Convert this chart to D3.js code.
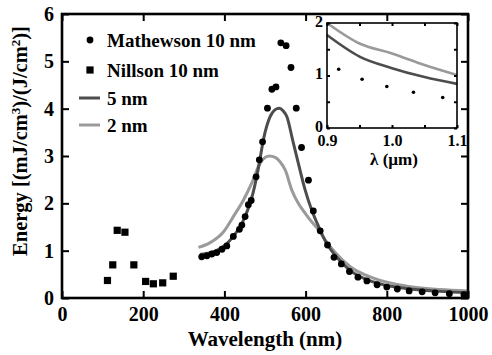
<!DOCTYPE html>
<html>
<head>
<meta charset="utf-8">
<script src="https://cdn.jsdelivr.net/npm/d3@7"></script>
<style>
body{margin:0;background:#fff;}
text{font-family:"Liberation Serif","Times New Roman",Times,"DejaVu Serif",serif;font-weight:bold;fill:#000;}
</style>
</head>
<body>
<div id="canvas"></div>
<script>
// Mathewson 10 nm (wavelength nm, energy)
let mathewson_wl = [344,357,369,381,394,406,422,437,443,451,459,466,478,486,494,506,517,527,539,552,564,577,590,607,619,636,654,670,688,708,729,751,776,800,826,855,887,919,954,990],
mathewson_e = [0.87,0.89,0.93,0.96,1.03,1.10,1.30,1.45,1.54,1.72,1.97,2.06,2.56,2.92,3.30,4.01,4.41,4.46,5.39,5.33,4.87,4.01,3.18,2.49,1.84,1.42,1.12,0.86,0.72,0.56,0.44,0.36,0.28,0.23,0.19,0.15,0.13,0.11,0.09,0.07];

// Nillson 10 nm
let nillson_wl = [112,125,136,155,177,206,225,248,274],
nillson_e = [0.37,0.70,1.43,1.39,0.70,0.35,0.30,0.32,0.46];

// 5 nm curve
let nm5_wl = [340,380,420,450,470,486,496,512,525,535,545,554,568,584,599,615,632,650,675,710,767,849,931,1000],
nm5_e = [0.92,1.00,1.28,1.70,2.20,2.85,3.34,3.82,3.98,4.01,3.95,3.83,3.34,2.78,2.28,1.86,1.51,1.18,0.88,0.58,0.34,0.20,0.14,0.11];

// 2 nm curve
let nm2_wl = [336,365,398,422,447,467,488,500,511,525,537,550,566,582,599,615,632,648,673,710,767,849,931,1000],
nm2_e = [1.07,1.17,1.40,1.72,2.07,2.42,2.85,2.97,3.00,2.97,2.88,2.70,2.28,2.00,1.79,1.61,1.44,1.23,0.96,0.66,0.42,0.25,0.18,0.15];

// inset (wavelength in um)
let inset_lam = [0.9,0.95,1.0,1.05,1.1],
inset_nm5 = [1.77,1.36,1.14,0.97,0.84],
inset_nm2 = [2.00,1.61,1.42,1.20,1.01],
inset_dot_lam = [0.918,0.954,0.992,1.033,1.078],
inset_dot_e = [1.12,0.93,0.79,0.68,0.58];

let x_ticks = [0,200,400,600,800,1000],
y_ticks = [0,1,2,3,4,5,6],
legend_labels = ['Mathewson 10 nm','Nillson 10 nm','5 nm','2 nm'];

let dark = '#4d4d4d', light = '#9a9a9a',
serif = '"Liberation Serif","Times New Roman",Times,"DejaVu Serif",serif';

let svg = d3.select('#canvas').append('svg').attr('width', 492).attr('height', 355);

let x = d3.scaleLinear().domain([0,1000]).range([62,468]),
y = d3.scaleLinear().domain([0,6]).range([298,14]);

//curves
let line = d3.line().x(d=>x(d[0])).y(d=>y(d[1])).curve(d3.curveMonotoneX);
svg.append('path').datum(d3.zip(nm2_wl, nm2_e)).attr('d', line)
	.style('fill','none').style('stroke', light).style('stroke-width', 3);
svg.append('path').datum(d3.zip(nm5_wl, nm5_e)).attr('d', line)
	.style('fill','none').style('stroke', dark).style('stroke-width', 3);

//points
svg.append('g').selectAll('circle').data(d3.zip(mathewson_wl, mathewson_e)).enter()
	.append('circle')
	.attr('cx', d=>x(d[0]))
	.attr('cy', d=>y(d[1]))
	.attr('r', 3.4)
	.style('fill','#000');
svg.append('g').selectAll('rect').data(d3.zip(nillson_wl, nillson_e)).enter()
	.append('rect')
	.attr('x', d=>x(d[0]) - 3.6)
	.attr('y', d=>y(d[1]) - 3.6)
	.attr('width', 7.2)
	.attr('height', 7.2)
	.style('fill','#000');

//axes, ticks inward on all sides
function styleAxis(g, fs){
	g.attr('font-family', null);
	g.select('.domain').remove();
	g.selectAll('line').style('stroke','#000').style('stroke-width', 2);
	g.selectAll('text').style('font-size', fs + 'px').style('font-family', serif).style('font-weight','bold').attr('fill','#000');
}
svg.append('g').attr('transform','translate(0,298)')
	.call(d3.axisBottom(x).tickValues(x_ticks).tickSize(-7).tickPadding(9).tickFormat(d3.format('d')))
	.call(g=>styleAxis(g, 20));
svg.append('g').attr('transform','translate(0,14)')
	.call(d3.axisTop(x).tickValues(x_ticks).tickSize(-7).tickFormat(''))
	.call(g=>styleAxis(g, 20));
svg.append('g').attr('transform','translate(62,0)')
	.call(d3.axisLeft(y).tickValues(y_ticks).tickSize(-7).tickPadding(8).tickFormat(d3.format('d')))
	.call(g=>styleAxis(g, 20));
svg.append('g').attr('transform','translate(468,0)')
	.call(d3.axisRight(y).tickValues(y_ticks).tickSize(-7).tickFormat(''))
	.call(g=>styleAxis(g, 20));

//frame
svg.append('rect').attr('x',62).attr('y',14).attr('width',406).attr('height',284)
	.style('fill','none').style('stroke','#000').style('stroke-width',2.6);

//axis titles
svg.append('text').attr('x',265).attr('y',346).attr('text-anchor','middle')
	.style('font-size','21px').text('Wavelength (nm)');
let yt = svg.append('text').attr('transform','translate(27,141) rotate(-90)')
	.attr('text-anchor','middle').style('font-size','20.5px');
yt.append('tspan').text('Energy [(mJ/cm');
yt.append('tspan').attr('dy',-7).style('font-size','13px').text('3');
yt.append('tspan').attr('dy',7).text(')/(J/cm');
yt.append('tspan').attr('dy',-7).style('font-size','13px').text('2');
yt.append('tspan').attr('dy',7).text(')]');

//legend
let leg_y = [40, 70, 98, 125];
svg.append('circle').attr('cx',90).attr('cy',leg_y[0]).attr('r',3.4).style('fill','#000');
svg.append('rect').attr('x',86.4).attr('y',leg_y[1]-3.6).attr('width',7.2).attr('height',7.2).style('fill','#000');
svg.append('line').attr('x1',79).attr('x2',100).attr('y1',leg_y[2]).attr('y2',leg_y[2]).style('stroke',dark).style('stroke-width',3);
svg.append('line').attr('x1',79).attr('x2',100).attr('y1',leg_y[3]).attr('y2',leg_y[3]).style('stroke',light).style('stroke-width',3);
svg.selectAll('.legtext').data(legend_labels).enter().append('text')
	.attr('x',107).attr('y',(d,i)=>leg_y[i]+7)
	.style('font-size','19px').text(d=>d);

//inset
let ix = d3.scaleLinear().domain([0.9,1.1]).range([327,457]),
iy = d3.scaleLinear().domain([0,2]).range([128,23]);

svg.append('rect').attr('x',327).attr('y',23).attr('width',130).attr('height',105).style('fill','#fff');
let iline = d3.line().x(d=>ix(d[0])).y(d=>iy(d[1])).curve(d3.curveMonotoneX);
svg.append('path').datum(d3.zip(inset_lam, inset_nm2)).attr('d', iline)
	.style('fill','none').style('stroke', light).style('stroke-width', 2.6);
svg.append('path').datum(d3.zip(inset_lam, inset_nm5)).attr('d', iline)
	.style('fill','none').style('stroke', dark).style('stroke-width', 2.6);
svg.append('g').selectAll('circle').data(d3.zip(inset_dot_lam, inset_dot_e)).enter()
	.append('circle')
	.attr('cx', d=>ix(d[0]))
	.attr('cy', d=>iy(d[1]))
	.attr('r', 1.8)
	.style('fill','#000');

let iformat = d=>(Math.abs(d*10 - Math.round(d*10)) < 1e-6 ? d3.format('.1f')(d) : '');
svg.append('g').attr('transform','translate(0,128)')
	.call(d3.axisBottom(ix).tickValues(inset_lam).tickSize(-3).tickPadding(7).tickFormat(iformat))
	.call(g=>styleAxis(g, 16));
svg.append('g').attr('transform','translate(0,23)')
	.call(d3.axisTop(ix).tickValues(inset_lam).tickSize(-3).tickFormat(''))
	.call(g=>styleAxis(g, 16));
svg.append('g').attr('transform','translate(327,0)')
	.call(d3.axisLeft(iy).tickValues([0,0.5,1,1.5,2]).tickSize(-3).tickPadding(4).tickFormat(d=>d % 1 == 0 ? d : ''))
	.call(g=>styleAxis(g, 16))
	.call(g=>g.selectAll('text').attr('dy','0.2em'));
svg.append('g').attr('transform','translate(457,0)')
	.call(d3.axisRight(iy).tickValues([0,0.5,1,1.5,2]).tickSize(-3).tickFormat(''))
	.call(g=>styleAxis(g, 16));
svg.append('rect').attr('x',327).attr('y',23).attr('width',130).attr('height',105)
	.style('fill','none').style('stroke','#000').style('stroke-width',1.6);
svg.append('text').attr('x',394).attr('y',165).attr('text-anchor','middle')
	.style('font-size','17px').text('λ (µm)');
</script>
</body>
</html>
